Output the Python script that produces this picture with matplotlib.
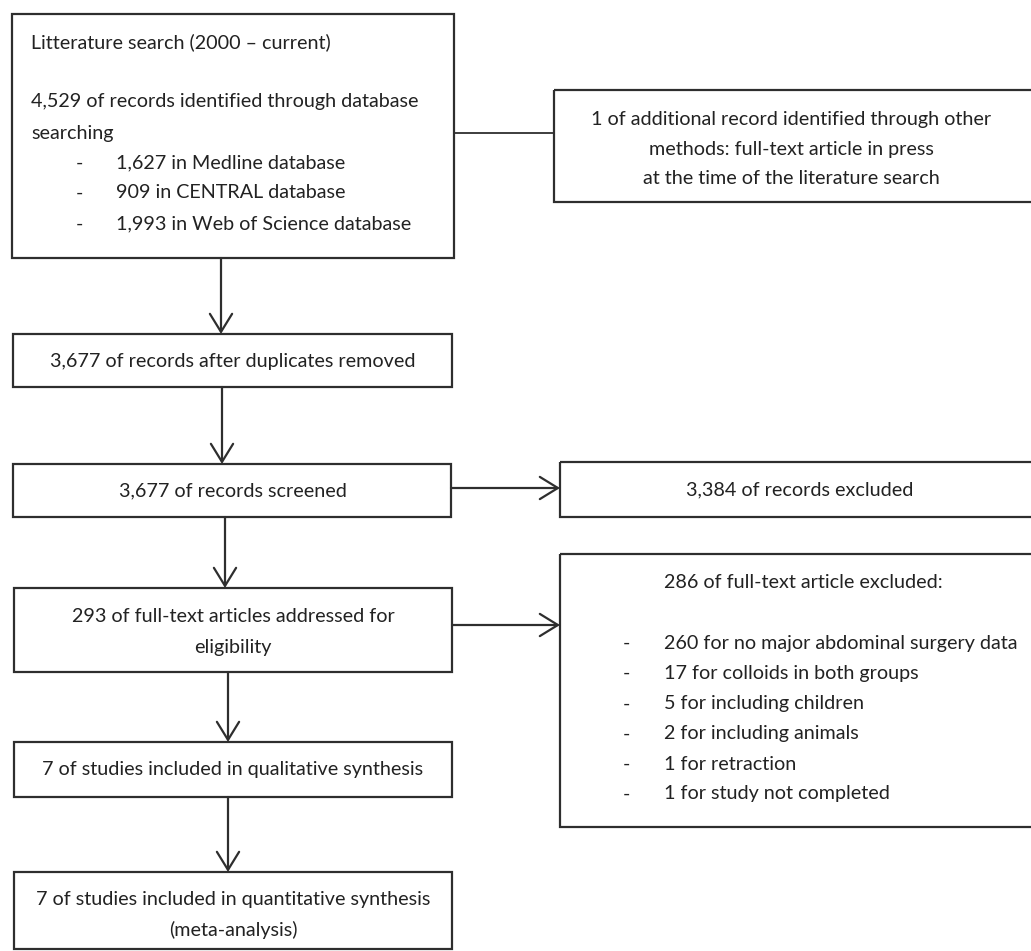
import matplotlib
matplotlib.use("Agg")
import matplotlib.pyplot as plt
from matplotlib.patches import Rectangle, FancyArrowPatch

# ---- content ----
search_title = "Litterature search (2000 \u2013 current)"
search_lines = ["4,529 of records identified through database", "searching"]
search_items = ["1,627 in Medline database", "909 in CENTRAL database",
                "1,993 in Web of Science database"]
other_lines = ["1 of additional record identified through other",
               "methods: full-text article in press",
               "at the time of the literature search"]
dup_text = "3,677 of records after duplicates removed"
screen_text = "3,677 of records screened"
excl_text = "3,384 of records excluded"
elig_lines = ["293 of full-text articles addressed for", "eligibility"]
ft_title = "286 of full-text article excluded:"
ft_items = ["260 for no major abdominal surgery data",
            "17 for colloids in both groups",
            "5 for including children",
            "2 for including animals",
            "1 for retraction",
            "1 for study not completed"]
qual_text = "7 of studies included in qualitative synthesis"
quant_lines = ["7 of studies included in quantitative synthesis", "(meta-analysis)"]

W, H = 1031, 951
fig = plt.figure(figsize=(W / 100, H / 100), dpi=100)
ax = fig.add_axes([0, 0, 1, 1])
ax.set_xlim(0, W)
ax.set_ylim(H, 0)
ax.axis("off")

FONT = "Lato"
FS = 14.2
TC = "#222222"
EC = "#2e2e2e"
LW = 1.6

def box(x0, y0, x1, y1):
    ax.add_patch(Rectangle((x0, y0), x1 - x0, y1 - y0, fill=False,
                           edgecolor=EC, linewidth=LW, clip_on=False))

def txt(x, y, s, ha="center"):
    ax.text(x, y, s, ha=ha, va="center", fontsize=FS, family=FONT, color=TC)

def arrow(p0, p1):
    ax.add_patch(FancyArrowPatch(p0, p1, arrowstyle="->,head_length=13,head_width=8",
                                 mutation_scale=1, color=EC, linewidth=LW,
                                 shrinkA=0, shrinkB=0))

# top-left box
box(12, 14, 454, 258)
txt(31, 42, search_title, ha="left")
for y, s in zip([102, 133], search_lines):
    txt(31, y, s, ha="left")
for y, s in zip([163, 193, 224], search_items):
    txt(76, y, "-", ha="left")
    txt(116, y, s, ha="left")

# top-right box with connector
box(554, 90, 1040, 202)
ax.plot([454, 554], [133, 133], color=EC, lw=1.3)
for y, s in zip([119, 149, 178], other_lines):
    txt(791, y, s)

# left column
box(13, 334, 452, 387)
txt(233, 361, dup_text)
arrow((221, 258), (221, 334))

box(13, 464, 451, 517)
txt(233, 491, screen_text)
arrow((222, 387), (222, 464))

box(560, 462, 1040, 517)
txt(800, 490, excl_text)
arrow((451, 488), (560, 488))

box(14, 588, 452, 672)
for y, s in zip([617, 647], elig_lines):
    txt(233, y, s)
arrow((225, 517), (225, 588))

box(560, 554, 1040, 827)
txt(664, 582, ft_title, ha="left")
for y, s in zip([643, 673, 704, 734, 764, 794], ft_items):
    txt(623, y, "-", ha="left")
    txt(664, y, s, ha="left")
arrow((452, 625), (560, 625))

box(14, 742, 452, 797)
txt(233, 769, qual_text)
arrow((228, 672), (228, 742))

box(14, 872, 452, 949)
for y, s in zip([900, 930], quant_lines):
    txt(233, y, s)
arrow((228, 797), (228, 872))

fig.savefig("out.png", dpi=100, facecolor="white")
